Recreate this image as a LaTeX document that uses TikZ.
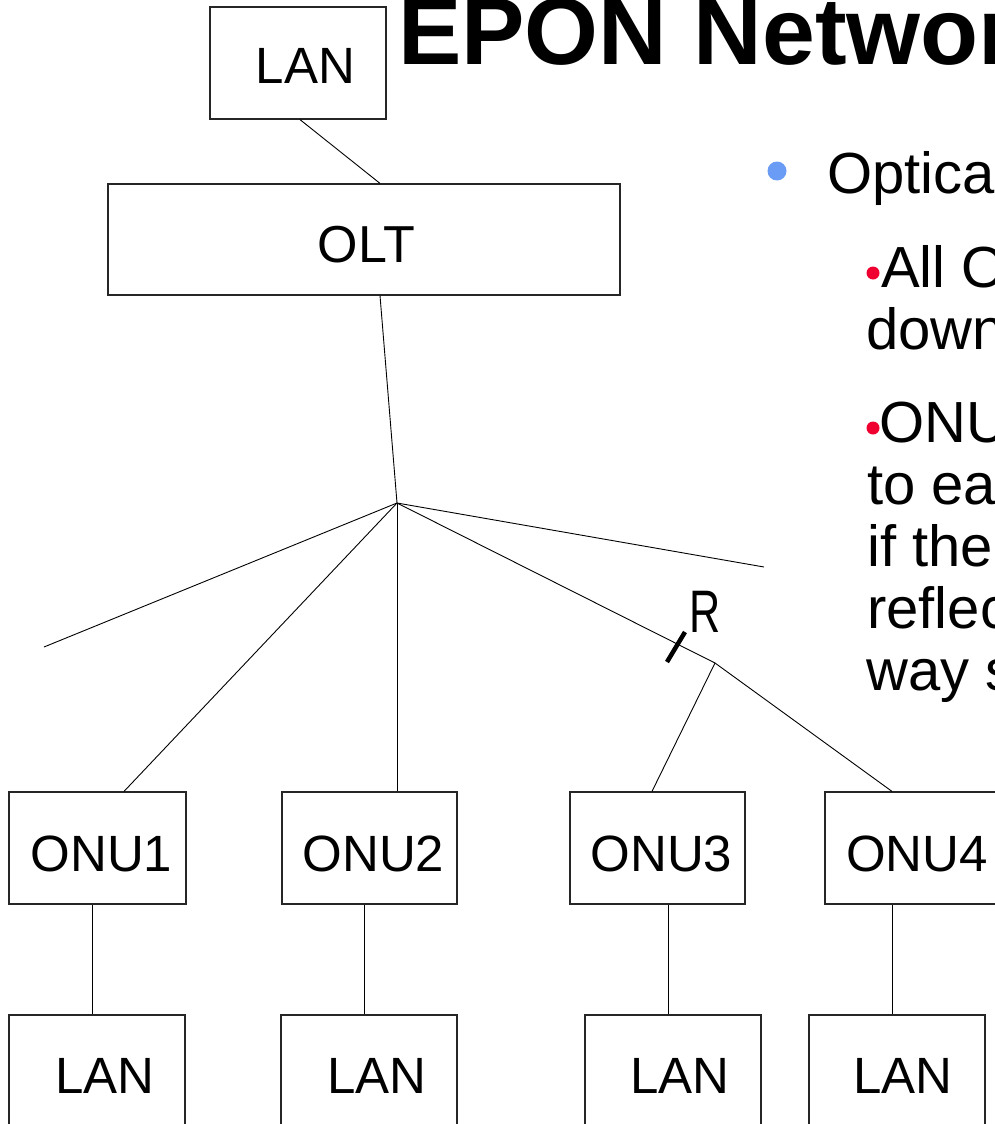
\documentclass[tikz,border=0pt]{standalone}
\usepackage{fontspec}
\setmainfont{Liberation Sans}
\definecolor{bulletblue}{HTML}{6A9BF5}
\definecolor{bulletred}{HTML}{F00030}
\begin{document}
\begin{tikzpicture}[x=1pt,y=-1pt,
  box/.style={draw=black!85, line width=1.2pt, inner sep=0pt, minimum height=112},
  wire/.style={draw=black, line width=0.9pt},
  lbl/.style={anchor=base, inner sep=0pt, font=\fontsize{51}{58}\selectfont},
  body/.style={anchor=base west, inner sep=0pt, font=\fontsize{58}{63}\selectfont},
  dotblue/.style={circle, fill=bulletblue, inner sep=0pt, minimum size=19},
  dotred/.style={circle, fill=bulletred, inner sep=0pt, minimum size=13},
]
\useasboundingbox (0,0) rectangle (994,1124);

% title
\node[anchor=base west, inner sep=0pt, font=\fontsize{95}{105}\selectfont\bfseries] (title) at (398,64) {EPON Network};

% head end
\node[box, minimum width=176] (lan0) at (298,63) {};
\node[lbl] (lan0t) at (305.5,84) {LAN};
\node[box, minimum width=512, minimum height=111] (olt) at (364,239.5) {};
\node[lbl, font=\fontsize{52}{60}\selectfont] (oltt) at (366.5,262) {OLT};

% optical network units
\node[box, minimum width=177] (onu1) at (97.5,848) {};
\node[box, minimum width=175] (onu2) at (369.5,848) {};
\node[box, minimum width=175] (onu3) at (657.5,848) {};
\node[box, minimum width=176] (onu4) at (913,848) {};
\node[lbl] (onu1t) at (101.5,871) {ONU1};
\node[lbl] (onu2t) at (373.5,871) {ONU2};
\node[lbl] (onu3t) at (661.5,871) {ONU3};
\node[lbl] (onu4t) at (917,871) {ONU4};

% customer LANs
\node[box, minimum width=176] (lanb1) at (97,1071) {};
\node[box, minimum width=176] (lanb2) at (369,1071) {};
\node[box, minimum width=176] (lanb3) at (673,1071) {};
\node[box, minimum width=176] (lanb4) at (897,1071) {};
\node[lbl] (lanb1t) at (105,1093) {LAN};
\node[lbl] (lanb2t) at (377,1093) {LAN};
\node[lbl] (lanb3t) at (680,1093) {LAN};
\node[lbl] (lanb4t) at (903,1093) {LAN};

% splitters and open fibre ends
\coordinate (sp) at (397,503);
\coordinate (sp2) at (715,663);
\coordinate (e1) at (44,647);
\coordinate (e2) at (764,567);

\draw[wire] ([xshift=2]lan0.south) -- ([xshift=16]olt.north);
\draw[wire] ([xshift=16]olt.south) -- (sp);
\draw[wire] (sp) -- (e1);
\draw[wire] (sp) -- ([xshift=26.5]onu1.north);
\draw[wire] (sp) -- ([xshift=27.5]onu2.north);
\draw[wire] (sp) -- (sp2);
\draw[wire] (sp) -- (e2);
\draw[wire] (sp2) -- ([xshift=-5.5]onu3.north);
\draw[wire] (sp2) -- ([xshift=-21]onu4.north);

\draw[wire] ([xshift=-5.5]onu1.south) -- ([xshift=-5]lanb1.north);
\draw[wire] ([xshift=-5.5]onu2.south) -- ([xshift=-5]lanb2.north);
\draw[wire] ([xshift=10.5]onu3.south) -- ([xshift=-5]lanb3.north);
\draw[wire] ([xshift=-21]onu4.south) -- ([xshift=-5]lanb4.north);

% reflection point R
\coordinate (r1) at (667,662);
\coordinate (r2) at (685,632);
\draw[line width=4.5pt] (r1) -- (r2);
\node[anchor=base, inner sep=0pt] (rlbl) at (705,632) {\fontsize{60}{70}\selectfont\scalebox{0.72}[1]{R}};

% bullet text
\node[dotblue] (b0) at (777,171) {};
\node[body] (t0) at (827,193) {Optical};
\node[dotred] (b1) at (873,273) {};
\node[body] (t1) at (881,287) {All ONUs};
\node[body] (t2) at (866,349) {downstream};
\node[dotred] (b2) at (873,428) {};
\node[body] (t3) at (879,442) {ONUs};
\node[body] (t4) at (867,504) {to each};
\node[body] (t5) at (867,566) {if there};
\node[body] (t6) at (867,628) {reflection};
\node[body] (t7) at (866,690) {way s};
\end{tikzpicture}
\end{document}
